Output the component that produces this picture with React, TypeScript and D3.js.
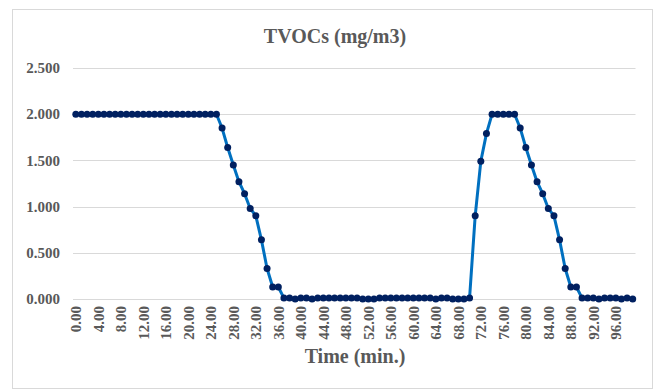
// TVOCs concentration over time, Excel-style line chart with D3
import React, { useEffect, useRef } from 'react';
import * as d3 from 'd3';

const minutes = [
  0, 1, 2, 3, 4, 5, 6, 7, 8, 9, 10, 11, 12, 13, 14, 15, 16, 17, 18, 19,
  20, 21, 22, 23, 24, 25, 26, 27, 28, 29, 30, 31, 32, 33, 34, 35, 36, 37, 38, 39,
  40, 41, 42, 43, 44, 45, 46, 47, 48, 49, 50, 51, 52, 53, 54, 55, 56, 57, 58, 59,
  60, 61, 62, 63, 64, 65, 66, 67, 68, 69, 70, 71, 72, 73, 74, 75, 76, 77, 78, 79,
  80, 81, 82, 83, 84, 85, 86, 87, 88, 89, 90, 91, 92, 93, 94, 95, 96, 97, 98, 99,
];

const tvoc = [
  2, 2, 2, 2, 2, 2, 2, 2, 2, 2, 2, 2, 2, 2, 2, 2, 2, 2, 2, 2,
  2, 2, 2, 2, 2, 2, 1.85, 1.64, 1.45, 1.27, 1.14, 0.98, 0.9, 0.64, 0.33, 0.13, 0.13, 0.01, 0.01, 0,
  0.01, 0.01, 0, 0.01, 0.01, 0.01, 0.01, 0.01, 0.01, 0.01, 0.01, 0, 0, 0, 0.01, 0.01, 0.01, 0.01, 0.01, 0.01,
  0.01, 0.01, 0.01, 0.01, 0, 0.01, 0.01, 0, 0, 0, 0.01, 0.9, 1.49, 1.79, 2, 2, 2, 2, 2, 1.85,
  1.64, 1.45, 1.27, 1.14, 0.98, 0.9, 0.64, 0.33, 0.13, 0.13, 0.01, 0.01, 0.01, 0, 0.01, 0.01, 0.01, 0, 0.01, 0,
];

const yTicks = [0, 0.5, 1, 1.5, 2, 2.5];
const xTickMinutes = [0, 4, 8, 12, 16, 20, 24, 28, 32, 36, 40, 44, 48, 52, 56, 60, 64, 68, 72, 76, 80, 84, 88, 92, 96];

const chartTitle = 'TVOCs (mg/m3)';
const xTitle = 'Time (min.)';

const W = 661;
const H = 391;
const FONT = '"Liberation Serif", "Times New Roman", serif';
const TEXT = '#595959';

const App = () => {
  const svgRef = useRef<SVGSVGElement>(null);

  useEffect(() => {
    document.body.style.margin = '0';
    if (!svgRef.current) return;
    const svg = d3.select(svgRef.current);
    svg.selectAll('*').remove();

    const plot = { left: 73, right: 635.5, top: 68, bottom: 299 };

    const x = d3.scaleBand<number>()
      .domain(minutes)
      .range([plot.left, plot.right])
      .padding(0);
    const cx = (m: number) => (x(m) || 0) + x.bandwidth() / 2;

    const y = d3.scaleLinear().domain([0, 2.5]).range([plot.bottom, plot.top]);

    svg.append('rect')
      .attr('width', W).attr('height', H).attr('fill', '#fff');

    // chart border
    svg.append('rect')
      .attr('x', 12.5).attr('y', 9.5)
      .attr('width', 640).attr('height', 379)
      .attr('fill', 'none').attr('stroke', '#d9d9d9');

    svg.append('text')
      .attr('x', 335).attr('y', 43)
      .attr('text-anchor', 'middle')
      .attr('font-family', FONT).attr('font-weight', 'bold').attr('font-size', 20)
      .attr('fill', TEXT)
      .text(chartTitle);

    // gridlines + y labels
    const yAxis = svg.append('g');
    yAxis.selectAll('line')
      .data(yTicks)
      .enter()
      .append('line')
      .attr('x1', plot.left).attr('x2', plot.right)
      .attr('y1', d => Math.round(y(d)) + 0.5).attr('y2', d => Math.round(y(d)) + 0.5)
      .attr('stroke', '#d9d9d9').attr('stroke-width', 1);
    yAxis.selectAll('text')
      .data(yTicks)
      .enter()
      .append('text')
      .attr('x', 60).attr('y', d => y(d))
      .attr('dy', '0.35em')
      .attr('text-anchor', 'end')
      .attr('font-family', FONT).attr('font-weight', 'bold').attr('font-size', 15)
      .attr('fill', TEXT)
      .text(d => d3.format('.3f')(d));

    // x labels, rotated
    svg.append('g')
      .selectAll('text')
      .data(xTickMinutes)
      .enter()
      .append('text')
      .attr('transform', d => `translate(${cx(d)},306) rotate(-90)`)
      .attr('dy', '0.35em')
      .attr('text-anchor', 'end')
      .attr('font-family', FONT).attr('font-weight', 'bold').attr('font-size', 15)
      .attr('fill', TEXT)
      .text(d => d3.format('.2f')(d));

    svg.append('text')
      .attr('x', 355).attr('y', 363)
      .attr('text-anchor', 'middle')
      .attr('font-family', FONT).attr('font-weight', 'bold').attr('font-size', 20)
      .attr('fill', TEXT)
      .text(xTitle);

    const line = d3.line<number>()
      .x((_, i) => cx(minutes[i]))
      .y(d => y(d));

    svg.append('path')
      .datum(tvoc)
      .attr('d', line)
      .attr('fill', 'none')
      .attr('stroke', '#0070C0')
      .attr('stroke-width', 3)
      .attr('stroke-linejoin', 'round');

    svg.append('g')
      .selectAll('circle')
      .data(tvoc)
      .enter()
      .append('circle')
      .attr('cx', (_, i) => cx(minutes[i]))
      .attr('cy', d => y(d))
      .attr('r', 3.5)
      .attr('fill', '#002060');
  }, []);

  return <svg ref={svgRef} width={W} height={H} style={{ display: 'block' }} />;
};

export default App;
